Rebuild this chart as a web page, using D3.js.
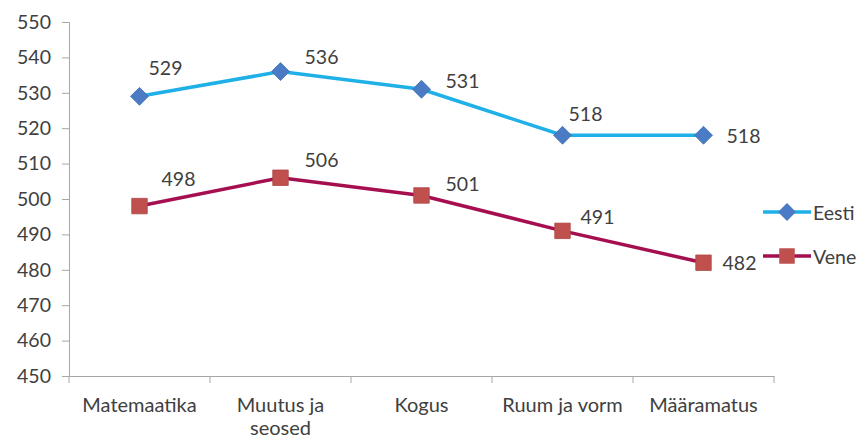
<!DOCTYPE html>
<html lang="et">
<head>
<meta charset="UTF-8">
<title>Eesti vs Vene</title>
<script src="https://cdn.jsdelivr.net/npm/d3@7"></script>
<style>
    body { margin: 0; background: white; }
    text { font-family: Lato, "Open Sans", sans-serif; fill: #404040; }
    .axis path, .axis line { stroke: #a6a6a6; }
</style>
</head>
<body>
<svg id="chart" width="863" height="441"></svg>
<script>
var categories = [["Matemaatika"], ["Muutus ja", "seosed"], ["Kogus"], ["Ruum ja vorm"], ["Määramatus"]];
var eesti = [529, 536, 531, 518, 518];
var vene = [498, 506, 501, 491, 482];
var yTicks = [450, 460, 470, 480, 490, 500, 510, 520, 530, 540, 550];
var seriesNames = ["Eesti", "Vene"];

// label nudges (px) so they sit like in the original
var labelOffsets = [
    [[26, -29], [41, -15], [41, -9], [23, -22], [40, 0]],
    [[39, -28], [41, -18], [41, -12], [35, -14], [36, 0]]
];

var svg = d3.select("#chart");
var plotLeft = 69, plotRight = 774, plotTop = 22, plotBottom = 376;
var fs = "19.5px";

var x = d3.scaleBand().domain(d3.range(categories.length)).range([plotLeft, plotRight]);
var y = d3.scaleLinear().domain([450, 550]).range([plotBottom, plotTop]);

// y axis
var yAxis = svg.append("g").attr("class", "axis")
    .attr("transform", "translate(" + plotLeft + ",0)")
    .call(d3.axisLeft(y).tickValues(yTicks).tickSize(7).tickPadding(11));
yAxis.selectAll("text").style("font-size", fs);

// x axis
var xAxis = svg.append("g").attr("class", "axis")
    .attr("transform", "translate(0," + plotBottom + ")")
    .call(d3.axisBottom(x).tickSize(0).tickFormat(""));
xAxis.selectAll(".tickmark")
    .data(d3.range(categories.length + 1))
    .enter().append("line")
    .attr("x1", function(i) { return plotLeft + i * x.bandwidth(); })
    .attr("x2", function(i) { return plotLeft + i * x.bandwidth(); })
    .attr("y1", 0).attr("y2", 7)
    .attr("stroke", "#a6a6a6");

svg.selectAll(".cat")
    .data(categories)
    .enter().append("text")
    .attr("class", "cat")
    .attr("text-anchor", "middle")
    .style("font-size", "20px")
    .attr("transform", function(d, i) {
        return "translate(" + (x(i) + x.bandwidth() / 2) + ",412)";
    })
    .selectAll("tspan")
    .data(function(d) { return d; })
    .enter().append("tspan")
    .attr("x", 0)
    .attr("dy", function(d, j) { return j === 0 ? 0 : 23; })
    .text(function(d) { return d; });

var cx = function(d, i) { return x(i) + x.bandwidth() / 2; };
var line = d3.line().x(cx).y(function(d) { return y(d); });

var series = [
    { name: seriesNames[0], values: eesti, line: "#1fb0e8", fill: "#4a7bc4", size: 160, rot: 45 },
    { name: seriesNames[1], values: vene, line: "#a50f4f", fill: "#c0504d", size: 240, rot: 0 }
];

series.forEach(function(s, k) {
    var sym = d3.symbol().type(d3.symbolSquare).size(s.size);

    svg.append("path")
        .datum(s.values)
        .attr("d", line)
        .attr("fill", "none")
        .attr("stroke", s.line)
        .attr("stroke-width", 3.5);

    svg.selectAll(".m" + k)
        .data(s.values)
        .enter().append("path")
        .attr("d", sym)
        .attr("transform", function(d, i) {
            return "translate(" + cx(d, i) + "," + y(d) + ") rotate(" + s.rot + ")";
        })
        .attr("fill", s.fill)
        .attr("stroke", d3.color(s.fill).darker(0.3))
        .attr("stroke-width", 0.8);

    svg.selectAll(".l" + k)
        .data(s.values)
        .enter().append("text")
        .attr("x", function(d, i) { return cx(d, i) + labelOffsets[k][i][0]; })
        .attr("y", function(d, i) { return y(d) + labelOffsets[k][i][1]; })
        .attr("text-anchor", "middle")
        .attr("dominant-baseline", "central")
        .style("font-size", fs)
        .text(function(d) { return d; });

    // legend
    var ly = 212 + k * 44;
    var lg = svg.append("g").attr("transform", "translate(763," + ly + ")");
    lg.append("line").attr("x1", 0).attr("x2", 48).attr("y1", 0).attr("y2", 0)
        .attr("stroke", s.line).attr("stroke-width", 3.5);
    lg.append("path")
        .attr("d", sym)
        .attr("transform", "translate(24,0) rotate(" + s.rot + ")")
        .attr("fill", s.fill);
    lg.append("text")
        .attr("x", 50).attr("y", 0)
        .attr("dominant-baseline", "central")
        .style("font-size", fs)
        .text(s.name);
});
</script>
</body>
</html>
